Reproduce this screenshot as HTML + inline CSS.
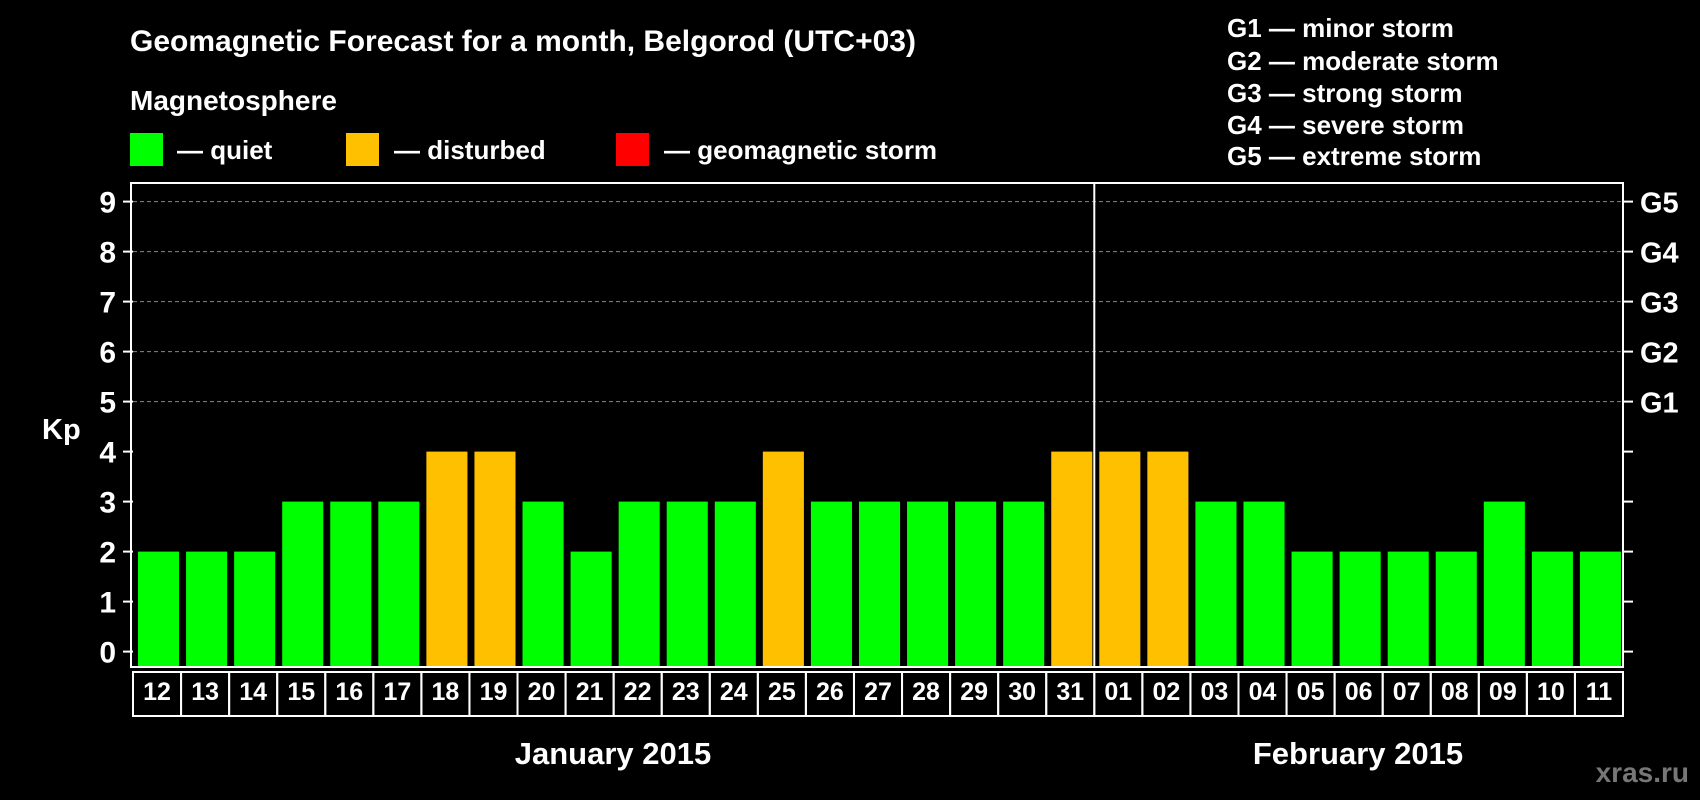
<!DOCTYPE html>
<html><head><meta charset="utf-8"><style>
body{margin:0;background:#000;width:1700px;height:800px;overflow:hidden}
svg{display:block;font-family:"Liberation Sans",Arial,sans-serif;font-weight:bold}
</style></head><body>
<svg id="c" width="1700" height="800" viewBox="0 0 1700 800">
<text x="130" y="51" fill="#fff" font-size="30">Geomagnetic Forecast for a month, Belgorod (UTC+03)</text>
<text x="130" y="110" fill="#fff" font-size="28">Magnetosphere</text>
<g><rect x="130" y="133" width="33" height="33" fill="#00ff00"/><text x="177" y="159" fill="#fff" font-size="26">— quiet</text></g>
<g><rect x="346" y="133" width="33" height="33" fill="#ffc000"/><text x="394" y="159" fill="#fff" font-size="26">— disturbed</text></g>
<g><rect x="616" y="133" width="33" height="33" fill="#ff0000"/><text x="664" y="159" fill="#fff" font-size="26">— geomagnetic storm</text></g>
<g fill="#fff" font-size="26">
<text x="1227" y="37">G1 — minor storm</text>
<text x="1227" y="70">G2 — moderate storm</text>
<text x="1227" y="102">G3 — strong storm</text>
<text x="1227" y="134">G4 — severe storm</text>
<text x="1227" y="165">G5 — extreme storm</text>
</g>
<text x="42" y="439" fill="#fff" font-size="29">Kp</text>
<text x="613" y="764" fill="#fff" font-size="31" text-anchor="middle">January 2015</text>
<text x="1358" y="764" fill="#fff" font-size="31" text-anchor="middle">February 2015</text>
<text x="1689" y="782" fill="#777" font-size="28" text-anchor="end">xras.ru</text>
<g id="plot"></g>
</svg>
<script>
const days=["12","13","14","15","16","17","18","19","20","21","22","23","24","25","26","27","28","29","30","31","01","02","03","04","05","06","07","08","09","10","11"];
const kp=[2,2,2,3,3,3,4,4,3,2,3,3,3,4,3,3,3,3,3,4,4,4,3,3,2,2,2,2,3,2,2];
const yTicks=[0,1,2,3,4,5,6,7,8,9];
const gLabels=["G1","G2","G3","G4","G5"];
const L=133,R=1623,T=183,B=667;
const slot=(R-L)/days.length;
const y=v=>651.6-v*50.0;
const xs=i=>L+i*slot;
const NS="http://www.w3.org/2000/svg";
const p=document.getElementById('plot');
function mk(t,a){const e=document.createElementNS(NS,t);for(const k in a)e.setAttribute(k,a[k]);p.appendChild(e);return e;}
yTicks.forEach(v=>{
  if(v>=5){const g=mk('line',{x1:L,x2:R,y1:y(v),y2:y(v),stroke:'#888','stroke-dasharray':'4,3','stroke-width':1});
  
  }
  const t1=mk('line',{x1:L-10,x2:L,y1:y(v),y2:y(v),stroke:'#fff','stroke-width':2});
  
  
  const t2=mk('line',{x1:R,x2:R+10,y1:y(v),y2:y(v),stroke:'#fff','stroke-width':2});
  
  
  const tx=mk('text',{x:116,y:y(v)+11,fill:'#fff','font-size':30,'text-anchor':'end'});tx.textContent=v;
  
  
});
gLabels.forEach((g,i)=>{const t=mk('text',{x:1640,y:y(i+5)+11,fill:'#fff','font-size':29});t.textContent=g;
  
  });
kp.forEach((v,i)=>{
  const b=mk('rect',{x:xs(i)+5,y:y(v),width:slot-7,height:B-y(v),fill:v>=5?'#ff0000':(v>=4?'#ffc000':'#00ff00')});
  
  
});
const fr=mk('rect',{x:L-2,y:T,width:R-L+2,height:B-T,fill:'none',stroke:'#fff','stroke-width':2});


const dv=mk('line',{x1:xs(20),x2:xs(20),y1:T,y2:B,stroke:'#fff','stroke-width':2});


days.forEach((d,i)=>{
  const r=mk('rect',{x:xs(i),y:672,width:slot,height:44,fill:'none',stroke:'#fff','stroke-width':2});
  
  
  const t=mk('text',{x:xs(i)+slot/2,y:700,fill:'#fff','font-size':25,'text-anchor':'middle'});t.textContent=d;
  
  
});
</script>
</body></html>
